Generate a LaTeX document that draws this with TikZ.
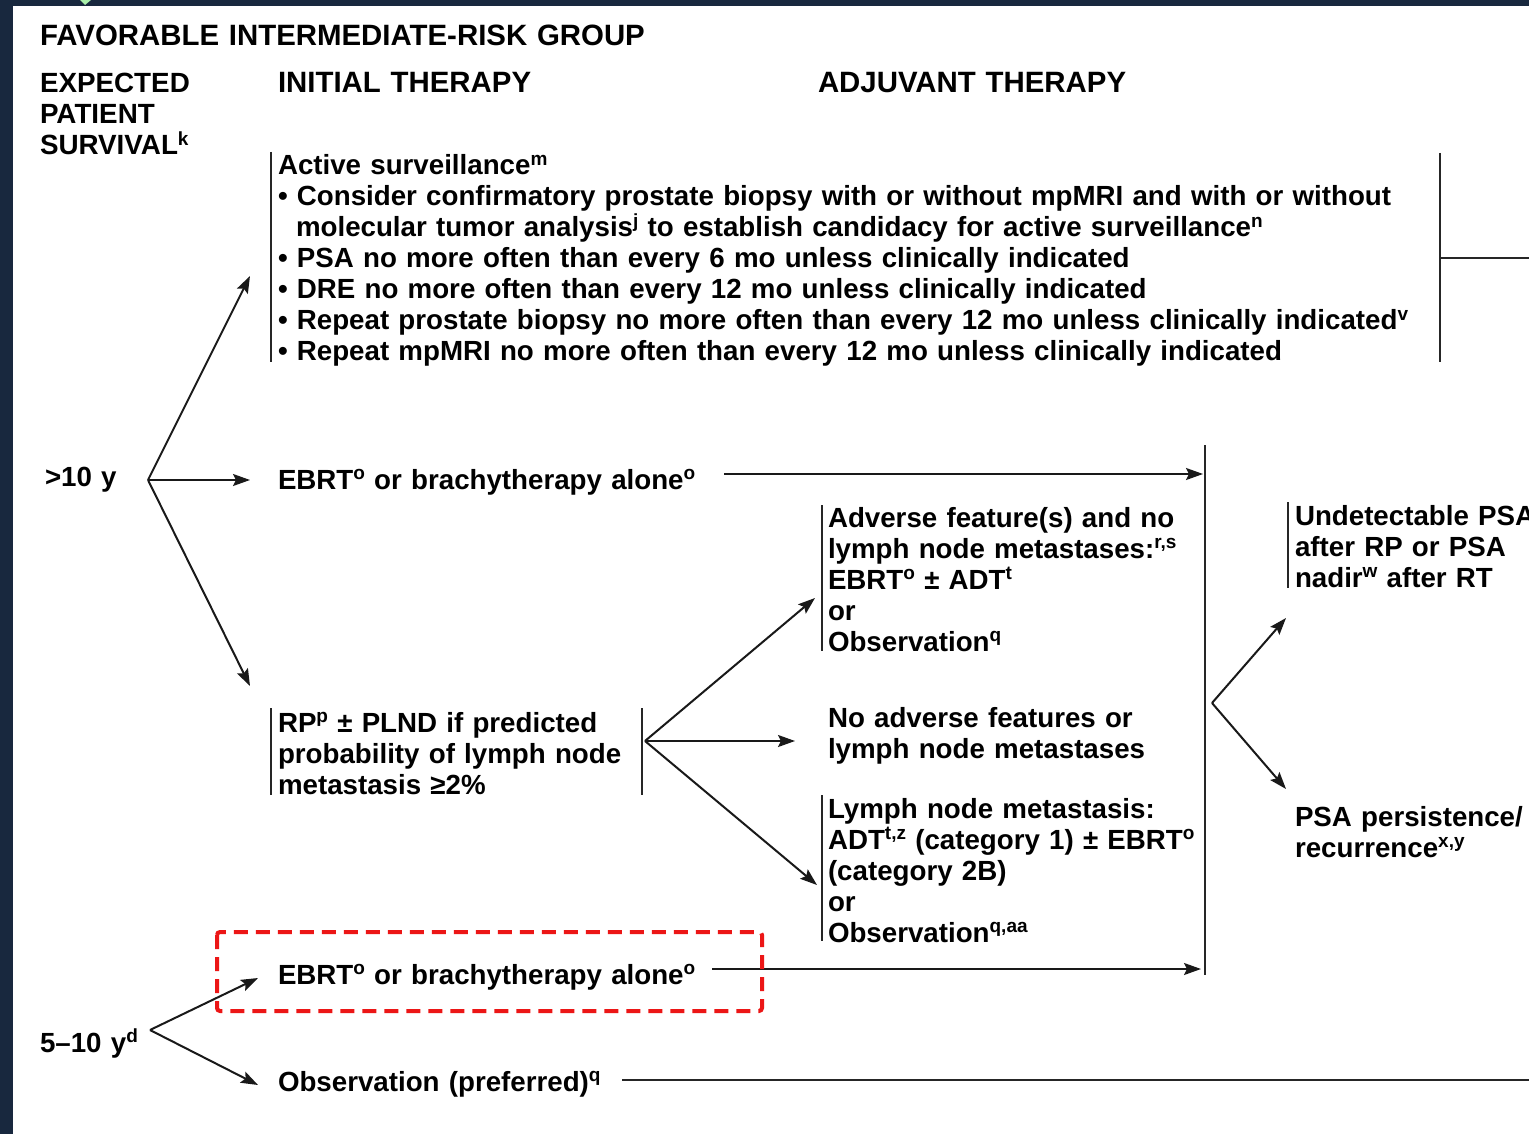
\documentclass[tikz,border=0pt]{standalone}
\usepackage{fontspec}
\setmainfont{Liberation Sans}
\usetikzlibrary{arrows.meta}
\definecolor{navy}{RGB}{24,40,62}
\definecolor{ared}{RGB}{236,22,22}
\definecolor{tickgreen}{RGB}{170,240,170}
\newcommand{\sps}[1]{\raisebox{9.5pt}{\fontsize{19}{19}\selectfont #1}}
\begin{document}
\begin{tikzpicture}[x=1pt,y=-1pt,
  txt/.style={anchor=base west, inner sep=0pt, outer sep=0pt, align=left, text width=1250pt, font=\bfseries\fontsize{27.7}{31}\selectfont},
  hd/.style={anchor=base west, inner sep=0pt, outer sep=0pt, align=left, text width=800pt, font=\bfseries\fontsize{29.4}{31}\selectfont},
  hdl/.style={hd, font=\bfseries\fontsize{27.8}{31}\selectfont},
  bar/.style={line width=2pt, black!85},
  ln/.style={line width=2pt, black!85},
  arr/.style={line width=2pt, black!90, -{Stealth[length=17pt,width=12pt,inset=3pt]}}]
\useasboundingbox (0,0) rectangle (1529,1134);
\fill[navy] (0,0) rectangle (1529,1134);
\fill[white] (13,6) rectangle (1529,1134);
\fill[tickgreen] (80,0) -- (91,0) -- (85,5) -- cycle;

% headings
\node[hd] (title) at (40,46) {FAVORABLE INTERMEDIATE-RISK GROUP};
\node[hdl] (eps) at (40,93) {EXPECTED\\PATIENT\\SURVIVAL\sps{k}};
\node[hd] (init) at (278,93) {INITIAL THERAPY};
\node[hd] (adj) at (818,93) {ADJUVANT THERAPY};

% active surveillance block
\node[txt] (as) at (278,175) {Active surveillance\sps{m}\\
• Consider confirmatory prostate biopsy with or without mpMRI and with or without\\
\hspace*{18pt}molecular tumor analysis\sps{j} to establish candidacy for active surveillance\sps{n}\\
• PSA no more often than every 6 mo unless clinically indicated\\
• DRE no more often than every 12 mo unless clinically indicated\\
• Repeat prostate biopsy no more often than every 12 mo unless clinically indicated\sps{v}\\
• Repeat mpMRI no more often than every 12 mo unless clinically indicated};
\draw[bar] (271,152) -- (271,362);
\draw[bar] (1440,153) -- (1440,362);
\draw[ln] (1440,258) -- (1529,258);

% >10 y
\node[txt] (gt) at (45,486) {>10 y};
\coordinate (b1) at (148,480);
\coordinate (asin) at (250,276);
\coordinate (ebin) at (250,480);
\coordinate (rpin) at (250,686);
\draw[arr] (b1) -- (asin);
\draw[arr] (b1) -- (ebin);
\draw[arr] (b1) -- (rpin);

\node[txt] (ebrt1) at (278,489) {EBRT\sps{o} or brachytherapy alone\sps{o}};
\coordinate (e1s) at (724,474);
\coordinate (e1e) at (1203,474);
\draw[arr] (e1s) -- (e1e);

% big vertical
\draw[bar] (1205,445) -- (1205,975);

% RP block
\node[txt] (rp) at (278,732) {RP\sps{p} ± PLND if predicted\\probability of lymph node\\metastasis ≥2\%};
\draw[bar] (271,708) -- (271,795);
\draw[bar] (642,708) -- (642,795);
\coordinate (b2) at (645,741);
\coordinate (advin) at (815,598);
\coordinate (noin) at (795,741);
\coordinate (lnin) at (817,885);
\draw[arr] (b2) -- (advin);
\draw[arr] (b2) -- (noin);
\draw[arr] (b2) -- (lnin);

\node[txt] (adv) at (828,527) {Adverse feature(s) and no\\lymph node metastases:\sps{r,s}\\EBRT\sps{o} ± ADT\sps{t}\\or\\Observation\sps{q}};
\draw[bar] (822,505) -- (822,651);

\node[txt] (noadv) at (828,727) {No adverse features or\\lymph node metastases};

\node[txt] (lymph) at (828,818) {Lymph node metastasis:\\ADT\sps{t,z} (category 1) ± EBRT\sps{o}\\(category 2B)\\or\\Observation\sps{q,aa}};
\draw[bar] (822,795) -- (822,941);

% right branch
\coordinate (b3) at (1212,703);
\coordinate (unin) at (1286,618);
\coordinate (psin) at (1286,789);
\draw[arr] (b3) -- (unin);
\draw[arr] (b3) -- (psin);
\node[txt] (undet) at (1295,525) {Undetectable PSA\\after RP or PSA\\nadir\sps{w} after RT};
\draw[bar] (1288,502) -- (1288,588);
\node[txt] (psa) at (1295,826) {PSA persistence/\\recurrence\sps{x,y}};

% 5-10 y
\node[txt] (ebrt2) at (278,984) {EBRT\sps{o} or brachytherapy alone\sps{o}};
\coordinate (e2s) at (712,969);
\coordinate (e2e) at (1201,969);
\draw[arr] (e2s) -- (e2e);
\draw[ared, line width=4pt, dash pattern=on 14pt off 8pt, rounded corners=3pt] (217,932) rectangle (762,1011);

\node[txt] (five) at (40,1052) {5–10 y\sps{d}};
\coordinate (b4) at (150,1030);
\coordinate (e2in) at (258,978);
\coordinate (obin) at (258,1085);
\draw[arr] (b4) -- (e2in);
\draw[arr] (b4) -- (obin);

\node[txt] (obs) at (278,1091) {Observation (preferred)\sps{q}};
\coordinate (obs1) at (622,1080);
\coordinate (obs2) at (1529,1080);
\draw[ln] (obs1) -- (obs2);
\end{tikzpicture}
\end{document}
